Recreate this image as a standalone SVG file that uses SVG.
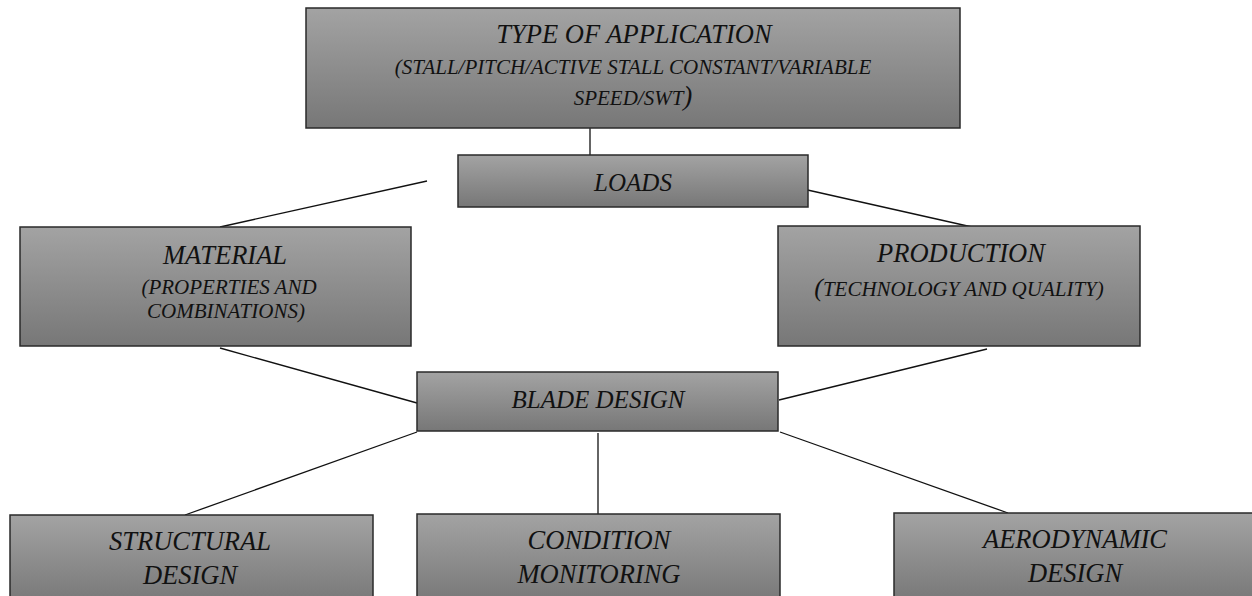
<svg xmlns="http://www.w3.org/2000/svg" width="1252" height="596" viewBox="0 0 1252 596">
<defs>
<linearGradient id="g" x1="0" y1="0" x2="0" y2="1">
<stop offset="0" stop-color="#a3a3a3"/>
<stop offset="1" stop-color="#777777"/>
</linearGradient>
</defs>
<style>
.box{fill:url(#g);stroke:#2a2a2a;stroke-width:1.5}
.t{font-family:"Liberation Serif","Times New Roman",serif;font-style:italic;fill:#111;text-anchor:middle}
.big{font-size:26.5px}
.mid{font-size:25px}
.small{font-size:21px}
.c{stroke:#111;stroke-width:1.3;fill:none}
</style>
<rect width="1252" height="596" fill="#fff"/>
<g id="connectors">
<line class="c" x1="590" y1="128" x2="590" y2="155"/>
<line class="c" x1="427" y1="181" x2="220" y2="227"/>
<line class="c" x1="772" y1="182" x2="972" y2="227"/>
<line class="c" x1="220" y1="348" x2="417" y2="403"/>
<line class="c" x1="987" y1="349" x2="779" y2="400"/>
<line class="c" x1="417" y1="432" x2="185" y2="515"/>
<line class="c" x1="598" y1="433" x2="598" y2="514"/>
<line class="c" x1="780" y1="432" x2="1008" y2="513"/>
</g>
<g id="type">
<rect class="box" x="306" y="8" width="654" height="120"/>
<text class="t big" x="634" y="43">TYPE OF APPLICATION</text>
<text class="t small" x="633" y="74">(STALL/PITCH/ACTIVE STALL CONSTANT/VARIABLE</text>
<text class="t small" x="633" y="105">SPEED/SWT<tspan font-size="27">)</tspan></text>
</g>
<g id="loads">
<rect class="box" x="458" y="155" width="350" height="52"/>
<text class="t mid" x="633" y="191">LOADS</text>
</g>
<g id="material">
<rect class="box" x="20" y="227" width="391" height="119"/>
<text class="t big" x="225" y="264">MATERIAL</text>
<text class="t small" x="229" y="294">(PROPERTIES AND</text>
<text class="t small" x="226" y="318">COMBINATIONS)</text>
</g>
<g id="production">
<rect class="box" x="778" y="226" width="362" height="120"/>
<text class="t big" x="961" y="262">PRODUCTION</text>
<text class="t small" x="959" y="296"><tspan font-size="26">(</tspan>TECHNOLOGY AND QUALITY)</text>
</g>
<g id="blade">
<rect class="box" x="417" y="372" width="361" height="59"/>
<text class="t mid" x="598" y="408">BLADE DESIGN</text>
</g>
<g id="structural">
<rect class="box" x="10" y="515" width="363" height="90"/>
<text class="t big" x="190" y="550">STRUCTURAL</text>
<text class="t big" x="190" y="584">DESIGN</text>
</g>
<g id="condition">
<rect class="box" x="417" y="514" width="363" height="90"/>
<text class="t big" x="599" y="549">CONDITION</text>
<text class="t big" x="599" y="583">MONITORING</text>
</g>
<g id="aerodynamic">
<rect class="box" x="894" y="513" width="370" height="90"/>
<text class="t big" x="1075" y="548">AERODYNAMIC</text>
<text class="t big" x="1075" y="582">DESIGN</text>
</g>
</svg>
